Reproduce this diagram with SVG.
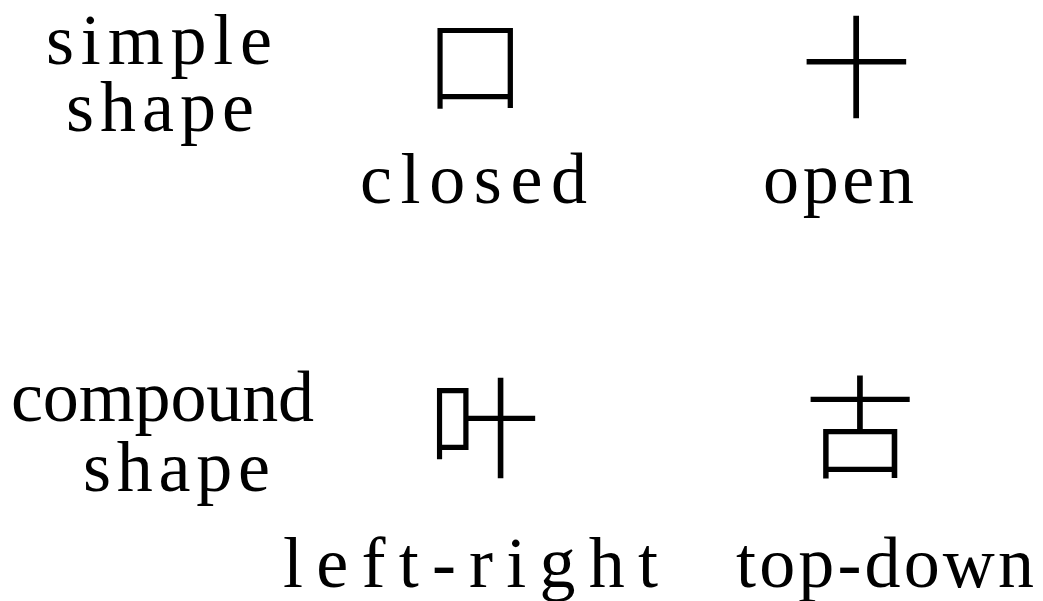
<svg xmlns="http://www.w3.org/2000/svg" width="1043" height="601" viewBox="0 0 1043 601">
<style>
.lbl{font-family:"Liberation Serif","Times New Roman",serif;font-size:72px;fill:#000}
.han{font-family:"Noto Sans CJK SC","Noto Sans CJK JP",sans-serif;font-size:112px;font-weight:300;fill:#000;text-anchor:middle}
</style>
<rect width="1043" height="601" fill="#fff"/>
<g id="row-simple">
<text class="lbl"><tspan x="46" y="64" textLength="226">simple</tspan><tspan x="66" y="131" textLength="188">shape</tspan></text>
</g>
<g id="node-closed">
<text class="han" x="475" y="104" style="font-size:104px">口</text>
<text class="lbl" x="360" y="203" textLength="227">closed</text>
</g>
<g id="node-open">
<text class="han" x="856" y="110">十</text>
<text class="lbl" x="763" y="203" textLength="151">open</text>
</g>
<g id="row-compound">
<text class="lbl"><tspan x="11" y="421" textLength="303">compound</tspan><tspan x="83" y="491" textLength="187">shape</tspan></text>
</g>
<g id="node-left-right">
<text class="han" x="484" y="470">叶</text>
<text class="lbl" x="283" y="587" textLength="375">left-right</text>
</g>
<g id="node-top-down">
<text class="han" x="860" y="470">古</text>
<text class="lbl" x="736" y="587" textLength="298">top-down</text>
</g>
<g id="connectors"></g>
</svg>
